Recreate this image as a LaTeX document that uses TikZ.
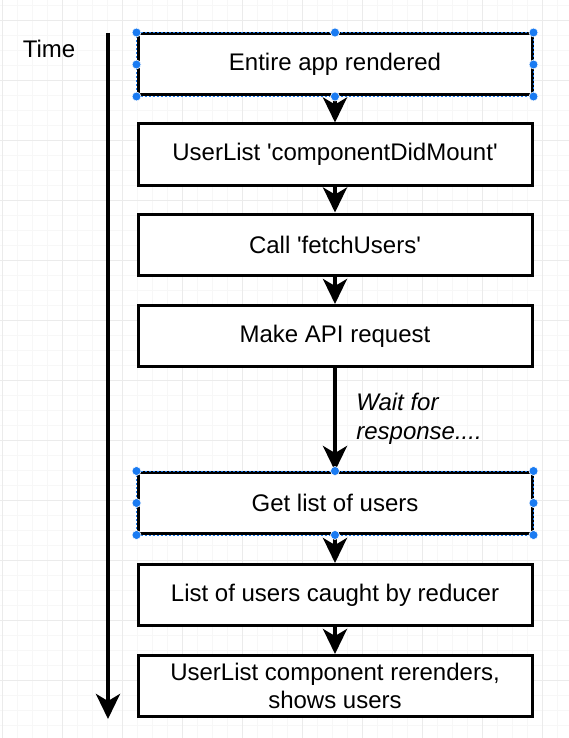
\documentclass[tikz,border=0pt]{standalone}
\usepackage{fontspec}
\setmainfont{Liberation Sans}[Ligatures=TeXOff]
\usetikzlibrary{arrows.meta}
\definecolor{gridminor}{HTML}{F7F7F7}
\definecolor{gridmajor}{HTML}{EBEBEB}
\definecolor{handle}{HTML}{1A7BF2}
\begin{document}
\begin{tikzpicture}[x=1pt,y=-1pt,
  stepbox/.style={draw=black,line width=3pt,minimum width=394pt,minimum height=61pt,
    inner sep=0pt,align=center,font=\fontsize{24}{28}\selectfont},
  flow/.style={line width=4pt,-{Stealth[length=25pt,width=24pt,inset=7pt]}},
  hdl/.style={fill=handle,draw=white,line width=0.6pt,circle,inner sep=0pt,minimum size=9pt}
]
\useasboundingbox (0,0) rectangle (569,738);
\fill[white] (0,0) rectangle (569,738);
% grid
\foreach \i in {2,17,...,569} \draw[gridminor,line width=0.8pt] (\i,0) -- (\i,738);
\foreach \j in {5,20,...,738} \draw[gridminor,line width=0.8pt] (0,\j) -- (569,\j);
\foreach \i in {2,62,...,569} \draw[gridmajor,line width=0.8pt] (\i,0) -- (\i,738);
\foreach \j in {20,80,...,738} \draw[gridmajor,line width=0.8pt] (0,\j) -- (569,\j);

% time axis
\node[font=\fontsize{24}{28}\selectfont] (time) at (49,49) {Time};
\coordinate (ttop) at (108,33);
\coordinate (tbot) at (108,719);
\draw[line width=4pt,-{Stealth[length=25pt,width=24pt,inset=7pt]}] (ttop) -- (tbot);

% boxes
\node[stepbox,fill=white] (b1) at (335,64.5) {Entire app rendered};
\node[stepbox,fill=white] (b2) at (335,154.5) {UserList 'componentDidMount'};
\node[stepbox,fill=white] (b3) at (335,244.5) {Call 'fetchUsers'};
\node[stepbox,fill=white] (b4) at (335,336) {Make API request};
\node[stepbox,fill=white] (b5) at (335,503) {Get list of users};
\node[stepbox,fill=white] (b6) at (335,595) {List of users caught by reducer};
\node[stepbox,fill=white] (b7) at (335,686) {UserList component rerenders,\\shows users};

% connectors
\draw[flow] (b1.south) -- (b2.north);
\draw[flow] (b2.south) -- (b3.north);
\draw[flow] (b3.south) -- (b4.north);
\draw[flow] (b4.south) -- node[right=16pt,yshift=1pt,align=left,font=\itshape\fontsize{24}{29}\selectfont]{Wait for\\response....} (b5.north);
\draw[flow] (b5.south) -- (b6.north);
\draw[flow] (b6.south) -- (b7.north);

% selection outlines and handles
\foreach \b in {b1,b5}{
  \draw[handle,line width=0.8pt,dash pattern=on 2pt off 2pt] (\b.north west) rectangle (\b.south east);
  \foreach \a in {north west,north,north east,east,south east,south,south west,west}
    \node[hdl] at (\b.\a) {};
}
\end{tikzpicture}
\end{document}
